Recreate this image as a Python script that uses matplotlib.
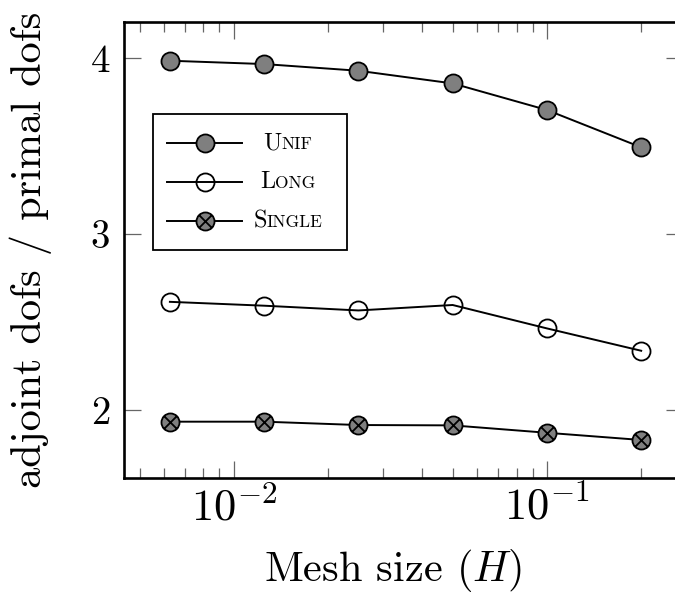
import numpy as np
import matplotlib
matplotlib.use('Agg')
import matplotlib.pyplot as plt
from matplotlib.path import Path
from matplotlib.lines import Line2D
from matplotlib.font_manager import FontProperties
from matplotlib.offsetbox import (AnchoredOffsetbox, VPacker, HPacker,
                                  TextArea, DrawingArea)
from matplotlib.ticker import FixedLocator, FixedFormatter, LogLocator, NullFormatter

# ---------------- data ----------------
mesh_size = [0.00625, 0.0125, 0.025, 0.05, 0.1, 0.2]
unif = [3.985, 3.966, 3.928, 3.856, 3.705, 3.493]
long_ = [2.615, 2.593, 2.566, 2.597, 2.464, 2.337]
single = [1.934, 1.934, 1.915, 1.913, 1.871, 1.830]
series_names = ['Unif', 'Long', 'Single']
y_ticks = [2, 3, 4]
y_tick_labels = ['2', '3', '4']
x_major_ticks = [1e-2, 1e-1]
x_tick_labels = [r'$10^{-2}$', r'$10^{-1}$']
x_label = r'Mesh size $(H)$'
y_label = 'adjoint dofs / primal dofs'

plt.rcParams['font.family'] = 'cmr10'
plt.rcParams['mathtext.fontset'] = 'cm'
plt.rcParams['axes.unicode_minus'] = False
plt.rcParams['axes.formatter.use_mathtext'] = True

W, H = 675, 604
fig = plt.figure(figsize=(W / 100, H / 100), dpi=100)
ax = fig.add_axes([124 / W, 1 - 478 / H, (683 - 124) / W, (478 - 22) / H])

# otimes marker
c = np.sqrt(0.5)
cross = Path([(-c, -c), (c, c), (-c, c), (c, -c)],
             [Path.MOVETO, Path.LINETO, Path.MOVETO, Path.LINETO])
otimes = Path.make_compound_path(Path.unit_circle(), cross)

gray = '#7f7f7f'
common = dict(color='black', lw=1.4, markersize=13, markeredgewidth=1.3,
              markeredgecolor='black')
styles = [dict(marker='o', markerfacecolor=gray),
          dict(marker='o', markerfacecolor='none'),
          dict(marker=otimes, markerfacecolor=gray)]
for vals, st, name in zip([unif, long_, single], styles, series_names):
    ax.plot(mesh_size, vals, label=name, **st, **common)

ax.set_xscale('log')
ax.set_xlim(0.00446, 0.272)
ax.set_ylim(1.614, 4.205)

ax.xaxis.set_major_locator(FixedLocator(x_major_ticks))
ax.xaxis.set_major_formatter(FixedFormatter(x_tick_labels))
ax.xaxis.set_minor_locator(LogLocator(base=10, subs=np.arange(2, 10)))
ax.xaxis.set_minor_formatter(NullFormatter())
ax.yaxis.set_major_locator(FixedLocator(y_ticks))
ax.yaxis.set_major_formatter(FixedFormatter(y_tick_labels))

tick_col = '0.4'
ax.tick_params(axis='both', which='both', direction='in', top=True, right=True,
               color=tick_col, width=0.9)
ax.tick_params(axis='both', which='major', length=12.2)
ax.tick_params(axis='x', which='minor', length=7.2)
ax.tick_params(axis='x', which='major', labelsize=32, pad=6)
ax.tick_params(axis='y', which='major', labelsize=28, pad=10)

for s in ax.spines.values():
    s.set_linewidth(1.9)
    s.set_color('black')

ax.set_xlabel(x_label, fontsize=30.5, va='top')
ax.xaxis.set_label_coords(0.481, -0.151)
ax.set_ylabel(y_label, fontsize=30.5)
ax.yaxis.set_label_coords(-0.128, 0.5)

# ---------------- legend (small caps labels) ----------------
renderer = fig.canvas.get_renderer()
px2pt = 72 / 100
big, small = 17.5, 12.5
fp_big = FontProperties(family='cmr10', size=big)
fp_small = FontProperties(family='cmr10', size=small)

row_h = 28.0        # pt
lead = 3.4          # pt before the handle line
line_len = 54.0     # pt
gap = 4.0           # pt after handle
col_w = 57.6        # pt text column
right_extra = 7.0   # pt

rows = []
for name, st in zip(series_names, styles):
    da = DrawingArea(lead + line_len + gap, row_h, 0, 0)
    da.add_artist(Line2D([lead, lead + line_len], [row_h / 2, row_h / 2],
                         color='black', lw=1.4))
    da.add_artist(Line2D([lead + line_len / 2], [row_h / 2], linestyle='none',
                         **st, markersize=13, markeredgewidth=1.3,
                         markeredgecolor='black'))
    first, rest = name[0].upper(), name[1:].upper()
    w1 = renderer.get_text_width_height_descent(first, fp_big, ismath=False)[0] * px2pt
    w2 = renderer.get_text_width_height_descent(rest, fp_small, ismath=False)[0] * px2pt
    w = w1 + w2
    left_sp = (col_w - w) / 2
    txt = HPacker(children=[TextArea(first, textprops=dict(fontproperties=fp_big)),
                            TextArea(rest, textprops=dict(fontproperties=fp_small))],
                  align='baseline', pad=0, sep=0)
    row = HPacker(children=[da, DrawingArea(left_sp, 1, 0, 0), txt,
                            DrawingArea(col_w - w - left_sp + right_extra, 1, 0, 0)],
                  align='center', pad=0, sep=0)
    rows.append(row)

box = VPacker(children=rows, align='left', pad=0, sep=0)
anch = AnchoredOffsetbox(loc='upper left', child=box, pad=7.0 / 17, borderpad=0,
                         prop=dict(size=17), frameon=True,
                         bbox_to_anchor=((153 - 124) / 559, (478 - 114) / 456),
                         bbox_transform=ax.transAxes)
anch.patch.set_edgecolor('black')
anch.patch.set_facecolor('white')
anch.patch.set_linewidth(1.3)
anch.patch.set_boxstyle('square', pad=0)
ax.add_artist(anch)

fig.savefig('out.png', dpi=100)
